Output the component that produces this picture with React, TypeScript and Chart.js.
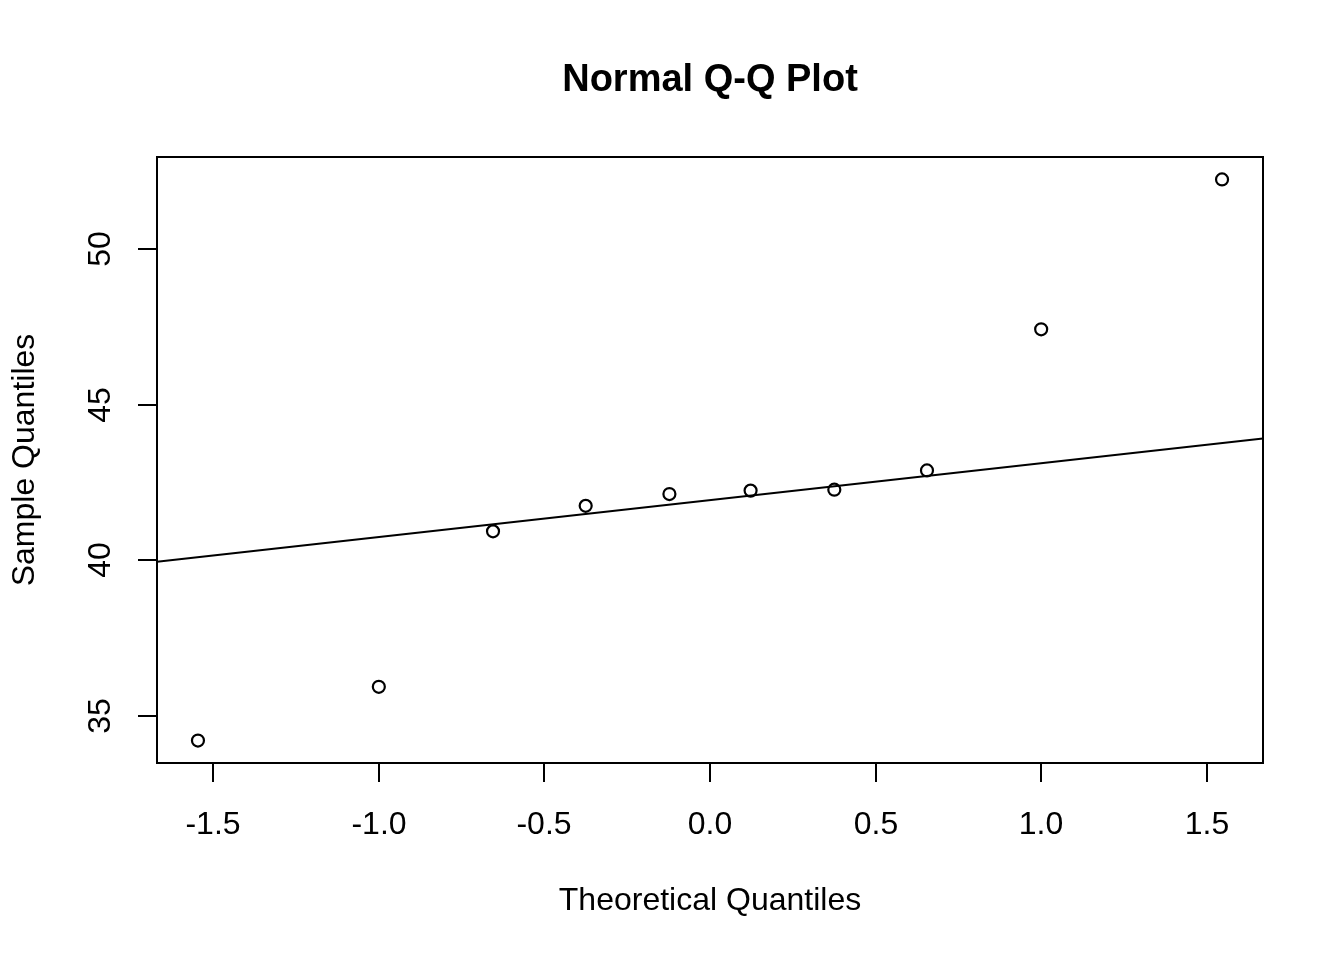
import React, { useEffect, useRef } from "react";
import { Chart, registerables } from "chart.js";

Chart.register(...registerables);

const theoreticalQuantiles = [-1.5466, -1.0003, -0.6554, -0.3755, -0.1226, 0.1226, 0.3755, 0.6554, 1.0003, 1.5466];
const sampleQuantiles = [34.2, 35.93, 40.93, 41.75, 42.13, 42.24, 42.27, 42.89, 47.43, 52.25];
const xTicks = [-1.5, -1.0, -0.5, 0.0, 0.5, 1.0, 1.5];
const yTicks = [35, 40, 45, 50];
const titleText = "Normal Q-Q Plot";
const xTitle = "Theoretical Quantiles";
const yTitle = "Sample Quantiles";

function quantile7(sorted: number[], p: number) {
  const h = (sorted.length - 1) * p;
  const lo = Math.floor(h);
  const hi = Math.min(lo + 1, sorted.length - 1);
  return sorted[lo] + (h - lo) * (sorted[hi] - sorted[lo]);
}

export default function App() {
  const ref = useRef<HTMLCanvasElement | null>(null);
  useEffect(() => {
    if (!ref.current) return;
    const xr = Math.max(...theoreticalQuantiles.map(Math.abs));
    const xMin = -xr - 0.04 * 2 * xr;
    const xMax = xr + 0.04 * 2 * xr;
    const yLo = Math.min(...sampleQuantiles);
    const yHi = Math.max(...sampleQuantiles);
    const yMin = yLo - 0.04 * (yHi - yLo);
    const yMax = yHi + 0.04 * (yHi - yLo);
    const sorted = [...sampleQuantiles].sort((a, b) => a - b);
    const q1 = quantile7(sorted, 0.25);
    const q3 = quantile7(sorted, 0.75);
    const z = 0.6744898;
    const slope = (q3 - q1) / (2 * z);
    const intercept = q1 + slope * z;

    const FONT = "'Liberation Sans', Arial, sans-serif";
    const axesPlugin = {
      id: "rAxes",
      afterDraw(chart: any) {
        const ctx = chart.ctx as CanvasRenderingContext2D;
        const a = chart.chartArea;
        const xs = chart.scales.x;
        const ys = chart.scales.y;
        ctx.save();
        ctx.strokeStyle = "#000";
        ctx.fillStyle = "#000";
        ctx.lineWidth = 2;
        ctx.strokeRect(a.left, a.top, a.right - a.left, a.bottom - a.top);
        // x ticks
        ctx.font = `32px ${FONT}`;
        ctx.textAlign = "center";
        ctx.textBaseline = "middle";
        for (const t of xTicks) {
          const px = Math.round(xs.getPixelForValue(t));
          ctx.beginPath();
          ctx.moveTo(px, a.bottom);
          ctx.lineTo(px, a.bottom + 19);
          ctx.stroke();
          ctx.fillText(t.toFixed(1), px, 825);
        }
        // y ticks
        for (const t of yTicks) {
          const py = Math.round(ys.getPixelForValue(t));
          ctx.beginPath();
          ctx.moveTo(a.left, py);
          ctx.lineTo(a.left - 19, py);
          ctx.stroke();
          ctx.save();
          ctx.translate(101, py);
          ctx.rotate(-Math.PI / 2);
          ctx.fillText(String(t), 0, 0);
          ctx.restore();
        }
        // axis titles
        const cx = (a.left + a.right) / 2;
        const cy = (a.top + a.bottom) / 2;
        ctx.fillText(xTitle, cx, 901);
        ctx.save();
        ctx.translate(25, cy);
        ctx.rotate(-Math.PI / 2);
        ctx.fillText(yTitle, 0, 0);
        ctx.restore();
        ctx.font = `bold 38px ${FONT}`;
        ctx.fillText(titleText, cx, 81);
        ctx.restore();
      },
    };

    const chart = new Chart(ref.current, {
      type: "scatter",
      data: {
        datasets: [
          {
            type: "line",
            data: [
              { x: xMin, y: intercept + slope * xMin },
              { x: xMax, y: intercept + slope * xMax },
            ],
            borderColor: "#000",
            borderWidth: 2,
            pointRadius: 0,
            fill: false,
            clip: false as any,
          } as any,
          {
            type: "scatter",
            data: theoreticalQuantiles.map((x, i) => ({ x, y: sampleQuantiles[i] })),
            pointStyle: "circle",
            pointRadius: 6,
            pointBorderWidth: 2.2,
            borderColor: "#000",
            backgroundColor: "rgba(0,0,0,0)",
            pointBackgroundColor: "rgba(0,0,0,0)",
            pointBorderColor: "#000",
            clip: false as any,
          } as any,
        ],
      },
      options: {
        animation: false,
        responsive: false,
        maintainAspectRatio: false,
        devicePixelRatio: 1,
        layout: { padding: { left: 157, top: 157, right: 81, bottom: 197 } },
        plugins: { legend: { display: false }, title: { display: false }, tooltip: { enabled: false } },
        scales: {
          x: { type: "linear", min: xMin, max: xMax, display: false },
          y: { type: "linear", min: yMin, max: yMax, display: false },
        },
      },
      plugins: [axesPlugin],
    });
    return () => chart.destroy();
  }, []);

  return (
    <div style={{ position: "fixed", left: 0, top: 0, width: 1344, height: 960, background: "#fff" }}>
      <canvas ref={ref} width={1344} height={960} style={{ width: 1344, height: 960, display: "block" }} />
    </div>
  );
}
